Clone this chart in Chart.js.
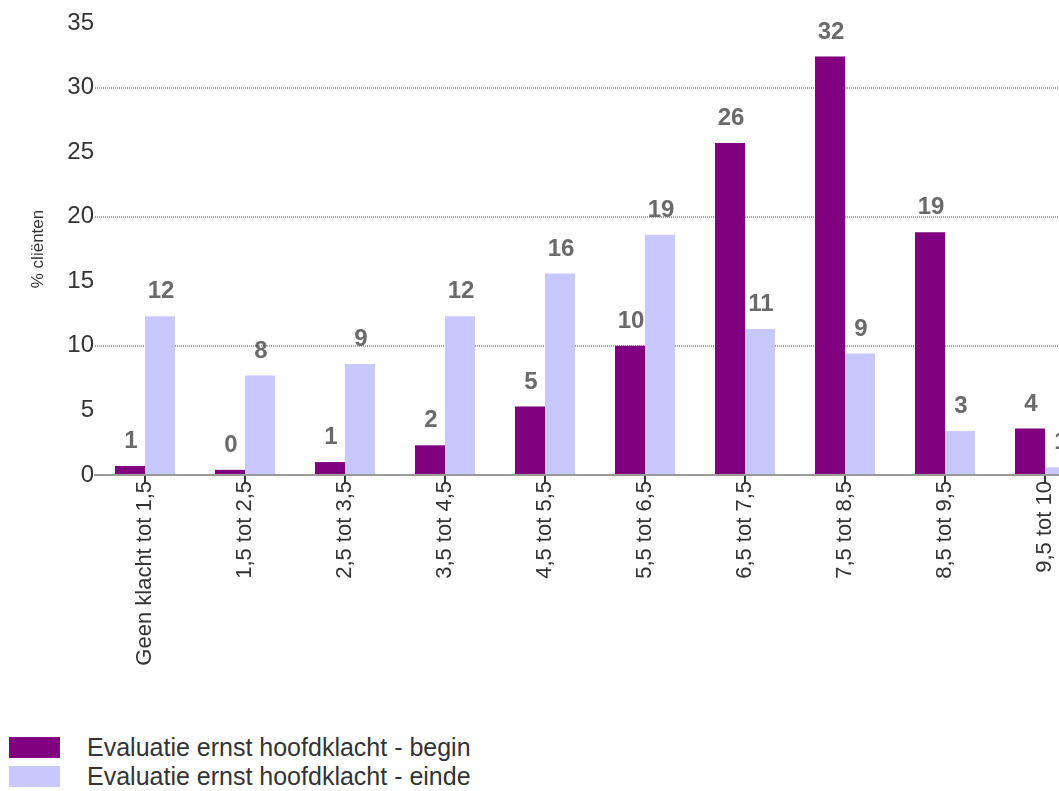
<!DOCTYPE html>
<html lang="nl">
  <head>
    <meta charset="UTF-8" />
    <title>Evaluatie ernst hoofdklacht</title>
    <script src="https://cdn.jsdelivr.net/npm/chart.js@4.4.0/dist/chart.umd.min.js"></script>
    <style>
      html,
      body {
        margin: 0;
        padding: 0;
        background: #fff;
        overflow: hidden;
        width: 1059px;
        height: 791px;
      }
      .grafiek {
        position: absolute;
        left: 0;
        top: 0;
        width: 1095px;
        height: 720px;
      }
      #legenda {
        position: absolute;
        left: 9px;
        top: 737px;
        font-family: "Liberation Sans", Arial, sans-serif;
        font-size: 25px;
        color: #333;
      }
      .regel {
        display: flex;
        align-items: center;
        height: 21px;
        margin-bottom: 8px;
      }
      .blokje {
        display: inline-block;
        width: 51px;
        height: 21px;
        margin-right: 27px;
      }
    </style>
  </head>

  <body>
    <div class="grafiek">
      <canvas id="ernst"></canvas>
    </div>
    <div id="legenda"></div>
  </body>
  <script>
    // klassen van de ernstscore
    var klassen = [
      "Geen klacht tot 1,5",
      "1,5 tot 2,5",
      "2,5 tot 3,5",
      "3,5 tot 4,5",
      "4,5 tot 5,5",
      "5,5 tot 6,5",
      "6,5 tot 7,5",
      "7,5 tot 8,5",
      "8,5 tot 9,5",
      "9,5 tot 10",
    ];
    // % cliënten per klasse
    var begin = [0.7, 0.4, 1.0, 2.3, 5.3, 10.0, 25.7, 32.4, 18.8, 3.6];
    var einde = [12.3, 7.7, 8.6, 12.3, 15.6, 18.6, 11.3, 9.4, 3.4, 0.6];
    var labelBegin = "Evaluatie ernst hoofdklacht - begin";
    var labelEinde = "Evaluatie ernst hoofdklacht - einde";
    var yTicks = [0, 5, 10, 15, 20, 25, 30, 35];

    var lettertype = "'Liberation Sans', Arial, sans-serif";

    // afgeronde waarde boven elke staaf
    var waardeLabels = {
      id: "waardeLabels",
      afterDatasetsDraw(chart) {
        const ctx = chart.ctx;
        ctx.save();
        ctx.font = "bold 24px " + lettertype;
        ctx.fillStyle = "#6a6a6a";
        ctx.textAlign = "center";
        ctx.textBaseline = "alphabetic";
        chart.data.datasets.forEach(function (ds, d) {
          chart.getDatasetMeta(d).data.forEach(function (bar, i) {
            ctx.fillText(String(Math.round(ds.data[i])), bar.x + 1, bar.y - 18);
          });
        });
        ctx.restore();
      },
    };

    var grafiek = new Chart(document.getElementById("ernst"), {
      type: "bar",
      data: {
        labels: klassen,
        datasets: [
          {
            label: labelBegin,
            data: begin,
            backgroundColor: "#800080",
          },
          {
            label: labelEinde,
            data: einde,
            backgroundColor: "#c8c8ff",
          },
        ],
      },
      options: {
        responsive: true,
        maintainAspectRatio: false,
        animation: false,
        layout: { padding: { top: 23, left: 0, right: 0, bottom: 0 } },
        datasets: {
          bar: { categoryPercentage: 0.6, barPercentage: 1 },
        },
        plugins: {
          legend: { display: false },
          tooltip: { enabled: false },
        },
        scales: {
          x: {
            offset: true,
            grid: {
              offset: false,
              drawOnChartArea: false,
              drawTicks: true,
              tickLength: 9,
              color: "#333",
              lineWidth: 2,
            },
            border: { display: true, color: "#9a9a9a", width: 2, dash: [1, 1] },
            ticks: {
              autoSkip: false,
              maxRotation: 90,
              minRotation: 90,
              padding: -3,
              color: "#333",
              font: { family: lettertype, size: 22 },
            },
            afterFit(scale) {
              scale.height = 720 - 475;
              scale.paddingLeft = 0;
              scale.paddingRight = 0;
            },
          },
          y: {
            min: 0,
            max: 35,
            afterBuildTicks(scale) {
              scale.ticks = yTicks.map(function (v) {
                return { value: v };
              });
            },
            grid: {
              drawTicks: false,
              lineWidth: 2,
              color: function (c) {
                var v = c.tick && c.tick.value;
                return v > 0 && v < 35 && v % 10 === 0 ? "#a0a0a0" : "rgba(0,0,0,0)";
              },
            },
            border: { display: false, dash: [1, 1] },
            ticks: {
              padding: 1,
              color: "#333",
              font: { family: lettertype, size: 24 },
            },
            title: {
              display: true,
              text: "% cliënten",
              color: "#333",
              font: { family: lettertype, size: 17 },
              padding: { top: 28, bottom: 0 },
            },
            afterFit(scale) {
              scale.width = 95;
            },
          },
        },
      },
      plugins: [waardeLabels],
    });

    // legenda onder de grafiek, opgebouwd uit de datasets
    var legenda = document.getElementById("legenda");
    grafiek.data.datasets.forEach(function (ds) {
      var regel = document.createElement("div");
      regel.className = "regel";
      var blokje = document.createElement("span");
      blokje.className = "blokje";
      blokje.style.background = ds.backgroundColor;
      var tekst = document.createElement("span");
      tekst.textContent = ds.label;
      regel.appendChild(blokje);
      regel.appendChild(tekst);
      legenda.appendChild(regel);
    });
  </script>
</html>
